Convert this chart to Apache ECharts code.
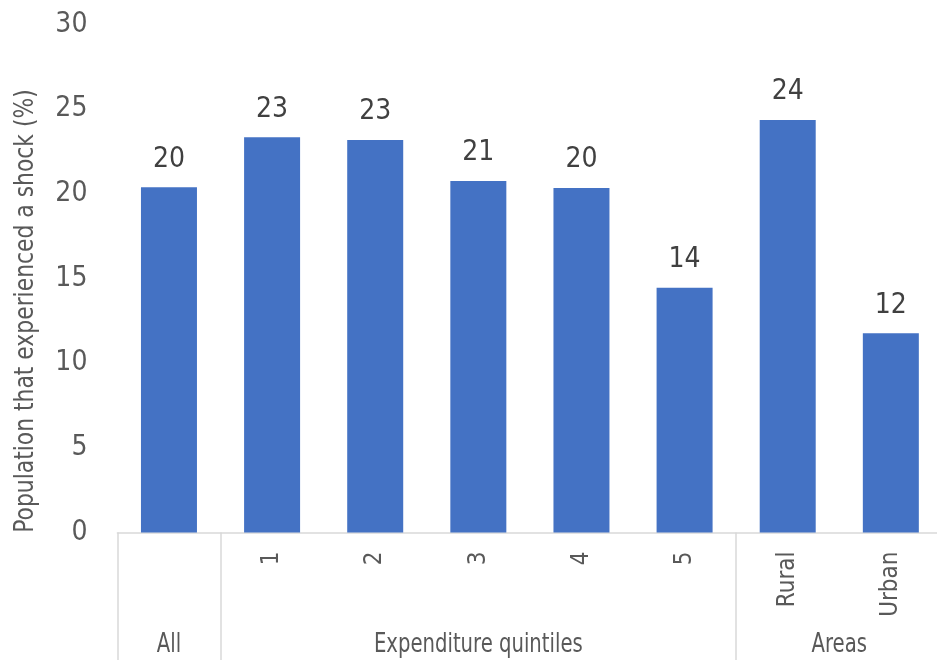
<!DOCTYPE html>
<html><head><meta charset="utf-8">
<script src="https://cdn.jsdelivr.net/npm/echarts@6/dist/echarts.min.js"></script>
<style>html,body{margin:0;padding:0;background:#fff}#c{width:937px;height:660px}</style>
</head><body><div id="c"></div>
<script>
const categories = ['', '1', '2', '3', '4', '5', 'Rural', 'Urban'];
const values = [20.39, 23.34, 23.18, 20.76, 20.35, 14.45, 24.36, 11.76];
const groups = [
  {label: 'All', from: 0, to: 0},
  {label: 'Expenditure quintiles', from: 1, to: 5},
  {label: 'Areas', from: 6, to: 7}
];
const yTicks = [0, 5, 10, 15, 20, 25, 30];
const yTitle = 'Population that experienced a shock (%)';

const FONT = '"DejaVu Sans Condensed", "Liberation Sans Narrow", sans-serif';
const chart = echarts.init(document.getElementById('c'));
const boundaryIdx = new Set(groups.map(g => g.from));
chart.setOption({
  animation: false,
  grid: {left: 117.4, width: 825, top: 24.5, height: 508, outerBoundsMode: 'none', containLabel: false},
  xAxis: {
    type: 'category', data: categories,
    axisLine: {lineStyle: {color: '#d9d9d9', width: 1.5}},
    axisTick: {show: true, length: 128, interval: (i) => boundaryIdx.has(i), lineStyle: {color: '#d9d9d9', width: 1.5}},
    axisLabel: {rotate: 90, margin: 19, color: '#595959', fontFamily: FONT, fontSize: 24, interval: 0}
  },
  yAxis: {
    type: 'value', min: yTicks[0], max: yTicks[yTicks.length - 1], interval: 5,
    splitLine: {show: false}, axisLine: {show: false}, axisTick: {show: false},
    axisLabel: {margin: 30, color: '#595959', fontFamily: FONT, fontSize: 28}
  },
  series: [{
    type: 'bar', data: values, barWidth: '54.3%',
    itemStyle: {color: '#4472C4'},
    label: {show: true, position: 'top', distance: 14, color: '#404040', fontFamily: FONT, fontSize: 28,
      formatter: p => Math.round(p.value)}
  }]
});
const g = [{type: 'text', x: 26, y: 311, rotation: Math.PI / 2, scaleX: 0.9,
  style: {text: yTitle, fill: '#595959', font: '27px ' + FONT, textAlign: 'center', textVerticalAlign: 'middle'}}];
groups.forEach(gr => {
  const x = (chart.convertToPixel({xAxisIndex: 0}, gr.from) + chart.convertToPixel({xAxisIndex: 0}, gr.to)) / 2;
  g.push({type: 'text', x: x, y: 645, scaleX: 0.84,
    style: {text: gr.label, fill: '#595959', font: '26px ' + FONT, textAlign: 'center', textVerticalAlign: 'middle'}});
});
chart.setOption({graphic: g});
</script></body></html>
